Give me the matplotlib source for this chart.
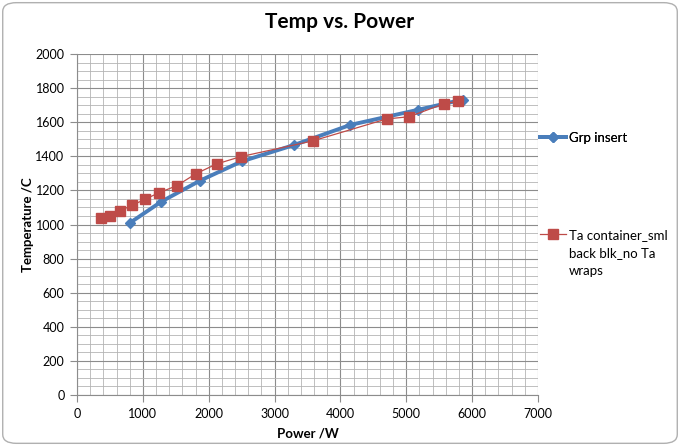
import matplotlib
matplotlib.use("Agg")
import matplotlib.pyplot as plt
from matplotlib.patches import FancyBboxPatch
from matplotlib.ticker import MultipleLocator

grp_power = [805, 1280, 1867, 2500, 3294, 4150, 5181, 5860]
grp_temp = [1010, 1134, 1257, 1370, 1466, 1584, 1673, 1733]

ta_power = [360, 501, 653, 835, 1032, 1250, 1518, 1806, 2120, 2485, 3578, 4700, 5040, 5566, 5782]
ta_temp = [1038, 1052, 1081, 1112, 1148, 1187, 1228, 1298, 1355, 1398, 1490, 1619, 1632, 1707, 1723]

series_labels = ["Grp insert", "Ta container_sml\nback blk_no Ta\nwraps"]
title = "Temp vs. Power"
xlabel = "Power /W"
ylabel = "Temperature /C"

plt.rcParams['font.family'] = ['Lato', 'DejaVu Sans']

fig = plt.figure(figsize=(6.8, 4.46), dpi=100)
fig.patches.append(FancyBboxPatch((0.004, 0.006), 0.992, 0.988,
                                  boxstyle="round,pad=0,rounding_size=0.02",
                                  transform=fig.transFigure, fc="white",
                                  ec="#b0b0b0", lw=1.0, zorder=-1))

ax = fig.add_axes([77/680, 1-395/446, (538-77)/680, (395-54)/446])
ax.set_xlim(0, 7000)
ax.set_ylim(0, 2000)
ax.xaxis.set_major_locator(MultipleLocator(1000))
ax.xaxis.set_minor_locator(MultipleLocator(200))
ax.yaxis.set_major_locator(MultipleLocator(200))
ax.yaxis.set_minor_locator(MultipleLocator(50))
ax.grid(which='major', color='#8c8c8c', lw=0.8)
ax.grid(which='minor', color='#b4b4b4', lw=0.6)
ax.set_axisbelow(True)
for s in ['top', 'right']:
    ax.spines[s].set_visible(False)
for s in ['left', 'bottom']:
    ax.spines[s].set_color('#8c8c8c')
    ax.spines[s].set_linewidth(0.8)
ax.tick_params(which='major', direction='out', length=5, color='#8c8c8c',
               labelsize=9, pad=4)
ax.tick_params(which='minor', length=0)

l1, = ax.plot(grp_power, grp_temp, color='#4A7EBB', lw=2.8, marker='D',
              ms=5, mfc='#4A7EBB', mec='#4A7EBB', label=series_labels[0], zorder=3)
l2, = ax.plot(ta_power, ta_temp, color='#BE4B48', lw=0.9, marker='s',
              ms=6.5, mfc='#BE4B48', mec='#BE4B48', label=series_labels[1], zorder=4)

ax.set_xlabel(xlabel, fontsize=9.5, fontweight='bold', labelpad=6)
ax.set_ylabel(ylabel, fontsize=9.5, fontweight='bold', labelpad=1)
fig.text(0.5, 1-22/446, title, ha='center', va='center', fontsize=15,
         fontweight='bold')

leg1 = fig.legend([l1], [series_labels[0]], loc='center left',
                  bbox_to_anchor=(540/680, 1-138/446), frameon=False,
                  fontsize=9.5, handlelength=2.0, handletextpad=0.2,
                  borderpad=0, borderaxespad=0)
leg2 = fig.legend([l2], [series_labels[1]], loc='upper left',
                  bbox_to_anchor=(540/680, 1-229/446), frameon=False,
                  fontsize=9.5, handlelength=2.0, handletextpad=0.2,
                  borderpad=0, borderaxespad=0)
for t in leg2.get_texts():
    t.set_linespacing(1.6)
for col in leg2._legend_handle_box.get_children():
    for item in col.get_children():
        item.align = 'top'
fig.add_artist(leg1)

fig.savefig("out.png", dpi=100)
